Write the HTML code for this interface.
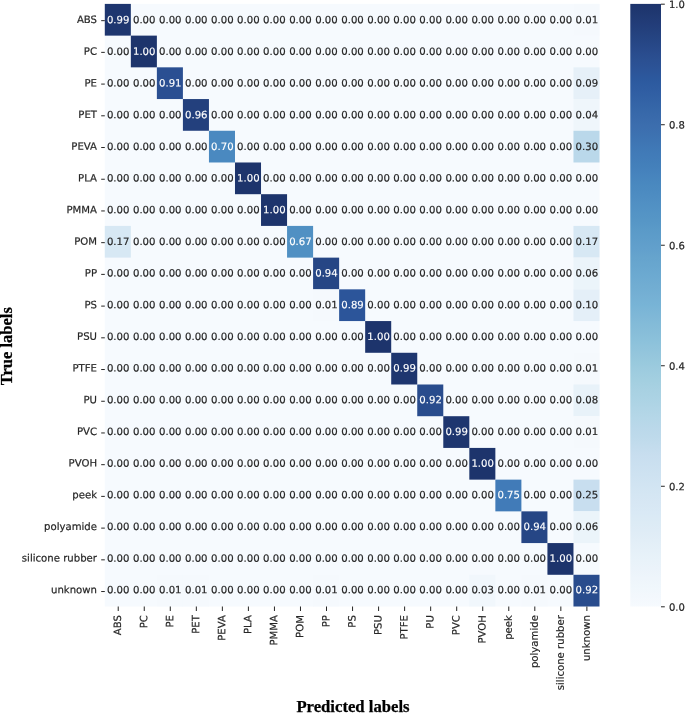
<!DOCTYPE html>
<html lang="en"><head><meta charset="utf-8"><title>Confusion matrix</title>
<style>html,body{margin:0;padding:0;background:#fff}svg{display:block}text{font-family:"DejaVu Sans","Liberation Sans",sans-serif;font-size:10.15px;fill:#262626;stroke:#262626;stroke-width:0.2px}.w{fill:#fff;stroke:#fff;stroke-width:0.14px}.ax{font-family:"Liberation Serif","Times New Roman",serif;font-weight:bold;font-size:16.5px;fill:#000;stroke:#000;stroke-width:0.25px}.t{stroke:#262626;stroke-width:1;fill:none}</style></head><body>
<svg width="685" height="713" viewBox="0 0 685 713">
<defs><linearGradient id="cb" x1="0" y1="1" x2="0" y2="0">
<stop offset="0.0000" stop-color="#f6fafe"/>
<stop offset="0.0156" stop-color="#f3f8fd"/>
<stop offset="0.0312" stop-color="#f0f7fc"/>
<stop offset="0.0469" stop-color="#eef5fb"/>
<stop offset="0.0625" stop-color="#ebf3fa"/>
<stop offset="0.0781" stop-color="#e8f2f9"/>
<stop offset="0.0938" stop-color="#e5f0f8"/>
<stop offset="0.1094" stop-color="#e2eef7"/>
<stop offset="0.1250" stop-color="#dfecf6"/>
<stop offset="0.1406" stop-color="#dcebf5"/>
<stop offset="0.1562" stop-color="#d9e9f5"/>
<stop offset="0.1719" stop-color="#d7e7f4"/>
<stop offset="0.1875" stop-color="#d4e6f3"/>
<stop offset="0.2031" stop-color="#d1e4f2"/>
<stop offset="0.2188" stop-color="#cee2f1"/>
<stop offset="0.2344" stop-color="#cbe0f0"/>
<stop offset="0.2500" stop-color="#c8deef"/>
<stop offset="0.2656" stop-color="#c3dced"/>
<stop offset="0.2812" stop-color="#bedaeb"/>
<stop offset="0.2969" stop-color="#bad8ea"/>
<stop offset="0.3125" stop-color="#b5d7e8"/>
<stop offset="0.3281" stop-color="#b1d5e6"/>
<stop offset="0.3438" stop-color="#acd3e4"/>
<stop offset="0.3594" stop-color="#a8d1e2"/>
<stop offset="0.3750" stop-color="#a3cfe0"/>
<stop offset="0.3906" stop-color="#9eccdf"/>
<stop offset="0.4062" stop-color="#98c9dd"/>
<stop offset="0.4219" stop-color="#93c5dc"/>
<stop offset="0.4375" stop-color="#8dc2db"/>
<stop offset="0.4531" stop-color="#88bed9"/>
<stop offset="0.4688" stop-color="#83bbd8"/>
<stop offset="0.4844" stop-color="#7eb7d7"/>
<stop offset="0.5000" stop-color="#78b4d6"/>
<stop offset="0.5156" stop-color="#75b0d4"/>
<stop offset="0.5312" stop-color="#71add2"/>
<stop offset="0.5469" stop-color="#6daad1"/>
<stop offset="0.5625" stop-color="#69a7cf"/>
<stop offset="0.5781" stop-color="#66a4cd"/>
<stop offset="0.5938" stop-color="#62a0cc"/>
<stop offset="0.6094" stop-color="#5e9dca"/>
<stop offset="0.6250" stop-color="#5a9ac8"/>
<stop offset="0.6406" stop-color="#5696c6"/>
<stop offset="0.6562" stop-color="#5393c5"/>
<stop offset="0.6719" stop-color="#508fc3"/>
<stop offset="0.6875" stop-color="#4c8bc1"/>
<stop offset="0.7031" stop-color="#4988bf"/>
<stop offset="0.7188" stop-color="#4683bd"/>
<stop offset="0.7344" stop-color="#437fba"/>
<stop offset="0.7500" stop-color="#417bb8"/>
<stop offset="0.7656" stop-color="#3f77b5"/>
<stop offset="0.7812" stop-color="#3d72b1"/>
<stop offset="0.7969" stop-color="#3c6eae"/>
<stop offset="0.8125" stop-color="#396aab"/>
<stop offset="0.8281" stop-color="#3566a8"/>
<stop offset="0.8438" stop-color="#3261a5"/>
<stop offset="0.8594" stop-color="#2f5da2"/>
<stop offset="0.8750" stop-color="#2c599e"/>
<stop offset="0.8906" stop-color="#2c5498"/>
<stop offset="0.9062" stop-color="#2b5092"/>
<stop offset="0.9219" stop-color="#294b8c"/>
<stop offset="0.9375" stop-color="#264685"/>
<stop offset="0.9531" stop-color="#24417e"/>
<stop offset="0.9688" stop-color="#223c78"/>
<stop offset="0.9844" stop-color="#1f3871"/>
<stop offset="1.0000" stop-color="#1d346c"/>
</linearGradient></defs>
<rect x="0" y="0" width="685" height="713" fill="#ffffff"/>
<rect x="104.80" y="3.90" width="494.70" height="602.60" fill="#f6fafe"/>
<rect x="104.80" y="3.90" width="26.04" height="31.72" fill="#1e366f"/>
<rect x="573.46" y="3.90" width="26.04" height="31.72" fill="#f5f9fd"/>
<rect x="130.84" y="35.62" width="26.04" height="31.72" fill="#1d346c"/>
<rect x="156.87" y="67.33" width="26.04" height="31.72" fill="#2a4f92"/>
<rect x="573.46" y="67.33" width="26.04" height="31.72" fill="#e6f0f8"/>
<rect x="182.91" y="99.05" width="26.04" height="31.72" fill="#23407d"/>
<rect x="573.46" y="99.05" width="26.04" height="31.72" fill="#eff6fb"/>
<rect x="208.95" y="130.76" width="26.04" height="31.72" fill="#4a89c0"/>
<rect x="573.46" y="130.76" width="26.04" height="31.72" fill="#bad8ea"/>
<rect x="234.98" y="162.48" width="26.04" height="31.72" fill="#1d346c"/>
<rect x="261.02" y="194.19" width="26.04" height="31.72" fill="#1d346c"/>
<rect x="104.80" y="225.91" width="26.04" height="31.72" fill="#d7e8f4"/>
<rect x="287.06" y="225.91" width="26.04" height="31.72" fill="#5090c3"/>
<rect x="573.46" y="225.91" width="26.04" height="31.72" fill="#d7e8f4"/>
<rect x="313.09" y="257.63" width="26.04" height="31.72" fill="#264685"/>
<rect x="573.46" y="257.63" width="26.04" height="31.72" fill="#ebf4fa"/>
<rect x="313.09" y="289.34" width="26.04" height="31.72" fill="#f5f9fd"/>
<rect x="339.13" y="289.34" width="26.04" height="31.72" fill="#2c559a"/>
<rect x="573.46" y="289.34" width="26.04" height="31.72" fill="#e4eff8"/>
<rect x="365.17" y="321.06" width="26.04" height="31.72" fill="#1d346c"/>
<rect x="391.21" y="352.77" width="26.04" height="31.72" fill="#1e366f"/>
<rect x="573.46" y="352.77" width="26.04" height="31.72" fill="#f5f9fd"/>
<rect x="417.24" y="384.49" width="26.04" height="31.72" fill="#294c8d"/>
<rect x="573.46" y="384.49" width="26.04" height="31.72" fill="#e8f2f9"/>
<rect x="443.28" y="416.21" width="26.04" height="31.72" fill="#1e366f"/>
<rect x="573.46" y="416.21" width="26.04" height="31.72" fill="#f5f9fd"/>
<rect x="469.32" y="447.92" width="26.04" height="31.72" fill="#1d346c"/>
<rect x="495.35" y="479.64" width="26.04" height="31.72" fill="#417bb8"/>
<rect x="573.46" y="479.64" width="26.04" height="31.72" fill="#c8deef"/>
<rect x="521.39" y="511.35" width="26.04" height="31.72" fill="#264685"/>
<rect x="573.46" y="511.35" width="26.04" height="31.72" fill="#ebf4fa"/>
<rect x="547.43" y="543.07" width="26.04" height="31.72" fill="#1d346c"/>
<rect x="156.87" y="574.78" width="26.04" height="31.72" fill="#f5f9fd"/>
<rect x="182.91" y="574.78" width="26.04" height="31.72" fill="#f5f9fd"/>
<rect x="313.09" y="574.78" width="26.04" height="31.72" fill="#f5f9fd"/>
<rect x="469.32" y="574.78" width="26.04" height="31.72" fill="#f1f7fc"/>
<rect x="521.39" y="574.78" width="26.04" height="31.72" fill="#f5f9fd"/>
<rect x="573.46" y="574.78" width="26.04" height="31.72" fill="#294c8d"/>
<g text-anchor="middle" style="font-size:10px;stroke:none;fill:#404040">
<text transform="translate(118.17 23.20) rotate(.03)" class="w">0.99</text>
<text transform="translate(144.21 23.20) rotate(.03)">0.00</text>
<text transform="translate(170.24 23.20) rotate(.03)">0.00</text>
<text transform="translate(196.28 23.20) rotate(.03)">0.00</text>
<text transform="translate(222.32 23.20) rotate(.03)">0.00</text>
<text transform="translate(248.35 23.20) rotate(.03)">0.00</text>
<text transform="translate(274.39 23.20) rotate(.03)">0.00</text>
<text transform="translate(300.43 23.20) rotate(.03)">0.00</text>
<text transform="translate(326.46 23.20) rotate(.03)">0.00</text>
<text transform="translate(352.50 23.20) rotate(.03)">0.00</text>
<text transform="translate(378.54 23.20) rotate(.03)">0.00</text>
<text transform="translate(404.57 23.20) rotate(.03)">0.00</text>
<text transform="translate(430.61 23.20) rotate(.03)">0.00</text>
<text transform="translate(456.65 23.20) rotate(.03)">0.00</text>
<text transform="translate(482.68 23.20) rotate(.03)">0.00</text>
<text transform="translate(508.72 23.20) rotate(.03)">0.00</text>
<text transform="translate(534.76 23.20) rotate(.03)">0.00</text>
<text transform="translate(560.79 23.20) rotate(.03)">0.00</text>
<text transform="translate(586.83 23.20) rotate(.03)">0.01</text>
<text transform="translate(118.17 54.88) rotate(.03)">0.00</text>
<text transform="translate(144.21 54.88) rotate(.03)" class="w">1.00</text>
<text transform="translate(170.24 54.88) rotate(.03)">0.00</text>
<text transform="translate(196.28 54.88) rotate(.03)">0.00</text>
<text transform="translate(222.32 54.88) rotate(.03)">0.00</text>
<text transform="translate(248.35 54.88) rotate(.03)">0.00</text>
<text transform="translate(274.39 54.88) rotate(.03)">0.00</text>
<text transform="translate(300.43 54.88) rotate(.03)">0.00</text>
<text transform="translate(326.46 54.88) rotate(.03)">0.00</text>
<text transform="translate(352.50 54.88) rotate(.03)">0.00</text>
<text transform="translate(378.54 54.88) rotate(.03)">0.00</text>
<text transform="translate(404.57 54.88) rotate(.03)">0.00</text>
<text transform="translate(430.61 54.88) rotate(.03)">0.00</text>
<text transform="translate(456.65 54.88) rotate(.03)">0.00</text>
<text transform="translate(482.68 54.88) rotate(.03)">0.00</text>
<text transform="translate(508.72 54.88) rotate(.03)">0.00</text>
<text transform="translate(534.76 54.88) rotate(.03)">0.00</text>
<text transform="translate(560.79 54.88) rotate(.03)">0.00</text>
<text transform="translate(586.83 54.88) rotate(.03)">0.00</text>
<text transform="translate(118.17 86.55) rotate(.03)">0.00</text>
<text transform="translate(144.21 86.55) rotate(.03)">0.00</text>
<text transform="translate(170.24 86.55) rotate(.03)" class="w">0.91</text>
<text transform="translate(196.28 86.55) rotate(.03)">0.00</text>
<text transform="translate(222.32 86.55) rotate(.03)">0.00</text>
<text transform="translate(248.35 86.55) rotate(.03)">0.00</text>
<text transform="translate(274.39 86.55) rotate(.03)">0.00</text>
<text transform="translate(300.43 86.55) rotate(.03)">0.00</text>
<text transform="translate(326.46 86.55) rotate(.03)">0.00</text>
<text transform="translate(352.50 86.55) rotate(.03)">0.00</text>
<text transform="translate(378.54 86.55) rotate(.03)">0.00</text>
<text transform="translate(404.57 86.55) rotate(.03)">0.00</text>
<text transform="translate(430.61 86.55) rotate(.03)">0.00</text>
<text transform="translate(456.65 86.55) rotate(.03)">0.00</text>
<text transform="translate(482.68 86.55) rotate(.03)">0.00</text>
<text transform="translate(508.72 86.55) rotate(.03)">0.00</text>
<text transform="translate(534.76 86.55) rotate(.03)">0.00</text>
<text transform="translate(560.79 86.55) rotate(.03)">0.00</text>
<text transform="translate(586.83 86.55) rotate(.03)">0.09</text>
<text transform="translate(118.17 118.23) rotate(.03)">0.00</text>
<text transform="translate(144.21 118.23) rotate(.03)">0.00</text>
<text transform="translate(170.24 118.23) rotate(.03)">0.00</text>
<text transform="translate(196.28 118.23) rotate(.03)" class="w">0.96</text>
<text transform="translate(222.32 118.23) rotate(.03)">0.00</text>
<text transform="translate(248.35 118.23) rotate(.03)">0.00</text>
<text transform="translate(274.39 118.23) rotate(.03)">0.00</text>
<text transform="translate(300.43 118.23) rotate(.03)">0.00</text>
<text transform="translate(326.46 118.23) rotate(.03)">0.00</text>
<text transform="translate(352.50 118.23) rotate(.03)">0.00</text>
<text transform="translate(378.54 118.23) rotate(.03)">0.00</text>
<text transform="translate(404.57 118.23) rotate(.03)">0.00</text>
<text transform="translate(430.61 118.23) rotate(.03)">0.00</text>
<text transform="translate(456.65 118.23) rotate(.03)">0.00</text>
<text transform="translate(482.68 118.23) rotate(.03)">0.00</text>
<text transform="translate(508.72 118.23) rotate(.03)">0.00</text>
<text transform="translate(534.76 118.23) rotate(.03)">0.00</text>
<text transform="translate(560.79 118.23) rotate(.03)">0.00</text>
<text transform="translate(586.83 118.23) rotate(.03)">0.04</text>
<text transform="translate(118.17 149.90) rotate(.03)">0.00</text>
<text transform="translate(144.21 149.90) rotate(.03)">0.00</text>
<text transform="translate(170.24 149.90) rotate(.03)">0.00</text>
<text transform="translate(196.28 149.90) rotate(.03)">0.00</text>
<text transform="translate(222.32 149.90) rotate(.03)" class="w">0.70</text>
<text transform="translate(248.35 149.90) rotate(.03)">0.00</text>
<text transform="translate(274.39 149.90) rotate(.03)">0.00</text>
<text transform="translate(300.43 149.90) rotate(.03)">0.00</text>
<text transform="translate(326.46 149.90) rotate(.03)">0.00</text>
<text transform="translate(352.50 149.90) rotate(.03)">0.00</text>
<text transform="translate(378.54 149.90) rotate(.03)">0.00</text>
<text transform="translate(404.57 149.90) rotate(.03)">0.00</text>
<text transform="translate(430.61 149.90) rotate(.03)">0.00</text>
<text transform="translate(456.65 149.90) rotate(.03)">0.00</text>
<text transform="translate(482.68 149.90) rotate(.03)">0.00</text>
<text transform="translate(508.72 149.90) rotate(.03)">0.00</text>
<text transform="translate(534.76 149.90) rotate(.03)">0.00</text>
<text transform="translate(560.79 149.90) rotate(.03)">0.00</text>
<text transform="translate(586.83 149.90) rotate(.03)">0.30</text>
<text transform="translate(118.17 181.57) rotate(.03)">0.00</text>
<text transform="translate(144.21 181.57) rotate(.03)">0.00</text>
<text transform="translate(170.24 181.57) rotate(.03)">0.00</text>
<text transform="translate(196.28 181.57) rotate(.03)">0.00</text>
<text transform="translate(222.32 181.57) rotate(.03)">0.00</text>
<text transform="translate(248.35 181.57) rotate(.03)" class="w">1.00</text>
<text transform="translate(274.39 181.57) rotate(.03)">0.00</text>
<text transform="translate(300.43 181.57) rotate(.03)">0.00</text>
<text transform="translate(326.46 181.57) rotate(.03)">0.00</text>
<text transform="translate(352.50 181.57) rotate(.03)">0.00</text>
<text transform="translate(378.54 181.57) rotate(.03)">0.00</text>
<text transform="translate(404.57 181.57) rotate(.03)">0.00</text>
<text transform="translate(430.61 181.57) rotate(.03)">0.00</text>
<text transform="translate(456.65 181.57) rotate(.03)">0.00</text>
<text transform="translate(482.68 181.57) rotate(.03)">0.00</text>
<text transform="translate(508.72 181.57) rotate(.03)">0.00</text>
<text transform="translate(534.76 181.57) rotate(.03)">0.00</text>
<text transform="translate(560.79 181.57) rotate(.03)">0.00</text>
<text transform="translate(586.83 181.57) rotate(.03)">0.00</text>
<text transform="translate(118.17 213.25) rotate(.03)">0.00</text>
<text transform="translate(144.21 213.25) rotate(.03)">0.00</text>
<text transform="translate(170.24 213.25) rotate(.03)">0.00</text>
<text transform="translate(196.28 213.25) rotate(.03)">0.00</text>
<text transform="translate(222.32 213.25) rotate(.03)">0.00</text>
<text transform="translate(248.35 213.25) rotate(.03)">0.00</text>
<text transform="translate(274.39 213.25) rotate(.03)" class="w">1.00</text>
<text transform="translate(300.43 213.25) rotate(.03)">0.00</text>
<text transform="translate(326.46 213.25) rotate(.03)">0.00</text>
<text transform="translate(352.50 213.25) rotate(.03)">0.00</text>
<text transform="translate(378.54 213.25) rotate(.03)">0.00</text>
<text transform="translate(404.57 213.25) rotate(.03)">0.00</text>
<text transform="translate(430.61 213.25) rotate(.03)">0.00</text>
<text transform="translate(456.65 213.25) rotate(.03)">0.00</text>
<text transform="translate(482.68 213.25) rotate(.03)">0.00</text>
<text transform="translate(508.72 213.25) rotate(.03)">0.00</text>
<text transform="translate(534.76 213.25) rotate(.03)">0.00</text>
<text transform="translate(560.79 213.25) rotate(.03)">0.00</text>
<text transform="translate(586.83 213.25) rotate(.03)">0.00</text>
<text transform="translate(118.17 244.92) rotate(.03)">0.17</text>
<text transform="translate(144.21 244.92) rotate(.03)">0.00</text>
<text transform="translate(170.24 244.92) rotate(.03)">0.00</text>
<text transform="translate(196.28 244.92) rotate(.03)">0.00</text>
<text transform="translate(222.32 244.92) rotate(.03)">0.00</text>
<text transform="translate(248.35 244.92) rotate(.03)">0.00</text>
<text transform="translate(274.39 244.92) rotate(.03)">0.00</text>
<text transform="translate(300.43 244.92) rotate(.03)" class="w">0.67</text>
<text transform="translate(326.46 244.92) rotate(.03)">0.00</text>
<text transform="translate(352.50 244.92) rotate(.03)">0.00</text>
<text transform="translate(378.54 244.92) rotate(.03)">0.00</text>
<text transform="translate(404.57 244.92) rotate(.03)">0.00</text>
<text transform="translate(430.61 244.92) rotate(.03)">0.00</text>
<text transform="translate(456.65 244.92) rotate(.03)">0.00</text>
<text transform="translate(482.68 244.92) rotate(.03)">0.00</text>
<text transform="translate(508.72 244.92) rotate(.03)">0.00</text>
<text transform="translate(534.76 244.92) rotate(.03)">0.00</text>
<text transform="translate(560.79 244.92) rotate(.03)">0.00</text>
<text transform="translate(586.83 244.92) rotate(.03)">0.17</text>
<text transform="translate(118.17 276.60) rotate(.03)">0.00</text>
<text transform="translate(144.21 276.60) rotate(.03)">0.00</text>
<text transform="translate(170.24 276.60) rotate(.03)">0.00</text>
<text transform="translate(196.28 276.60) rotate(.03)">0.00</text>
<text transform="translate(222.32 276.60) rotate(.03)">0.00</text>
<text transform="translate(248.35 276.60) rotate(.03)">0.00</text>
<text transform="translate(274.39 276.60) rotate(.03)">0.00</text>
<text transform="translate(300.43 276.60) rotate(.03)">0.00</text>
<text transform="translate(326.46 276.60) rotate(.03)" class="w">0.94</text>
<text transform="translate(352.50 276.60) rotate(.03)">0.00</text>
<text transform="translate(378.54 276.60) rotate(.03)">0.00</text>
<text transform="translate(404.57 276.60) rotate(.03)">0.00</text>
<text transform="translate(430.61 276.60) rotate(.03)">0.00</text>
<text transform="translate(456.65 276.60) rotate(.03)">0.00</text>
<text transform="translate(482.68 276.60) rotate(.03)">0.00</text>
<text transform="translate(508.72 276.60) rotate(.03)">0.00</text>
<text transform="translate(534.76 276.60) rotate(.03)">0.00</text>
<text transform="translate(560.79 276.60) rotate(.03)">0.00</text>
<text transform="translate(586.83 276.60) rotate(.03)">0.06</text>
<text transform="translate(118.17 308.27) rotate(.03)">0.00</text>
<text transform="translate(144.21 308.27) rotate(.03)">0.00</text>
<text transform="translate(170.24 308.27) rotate(.03)">0.00</text>
<text transform="translate(196.28 308.27) rotate(.03)">0.00</text>
<text transform="translate(222.32 308.27) rotate(.03)">0.00</text>
<text transform="translate(248.35 308.27) rotate(.03)">0.00</text>
<text transform="translate(274.39 308.27) rotate(.03)">0.00</text>
<text transform="translate(300.43 308.27) rotate(.03)">0.00</text>
<text transform="translate(326.46 308.27) rotate(.03)">0.01</text>
<text transform="translate(352.50 308.27) rotate(.03)" class="w">0.89</text>
<text transform="translate(378.54 308.27) rotate(.03)">0.00</text>
<text transform="translate(404.57 308.27) rotate(.03)">0.00</text>
<text transform="translate(430.61 308.27) rotate(.03)">0.00</text>
<text transform="translate(456.65 308.27) rotate(.03)">0.00</text>
<text transform="translate(482.68 308.27) rotate(.03)">0.00</text>
<text transform="translate(508.72 308.27) rotate(.03)">0.00</text>
<text transform="translate(534.76 308.27) rotate(.03)">0.00</text>
<text transform="translate(560.79 308.27) rotate(.03)">0.00</text>
<text transform="translate(586.83 308.27) rotate(.03)">0.10</text>
<text transform="translate(118.17 339.95) rotate(.03)">0.00</text>
<text transform="translate(144.21 339.95) rotate(.03)">0.00</text>
<text transform="translate(170.24 339.95) rotate(.03)">0.00</text>
<text transform="translate(196.28 339.95) rotate(.03)">0.00</text>
<text transform="translate(222.32 339.95) rotate(.03)">0.00</text>
<text transform="translate(248.35 339.95) rotate(.03)">0.00</text>
<text transform="translate(274.39 339.95) rotate(.03)">0.00</text>
<text transform="translate(300.43 339.95) rotate(.03)">0.00</text>
<text transform="translate(326.46 339.95) rotate(.03)">0.00</text>
<text transform="translate(352.50 339.95) rotate(.03)">0.00</text>
<text transform="translate(378.54 339.95) rotate(.03)" class="w">1.00</text>
<text transform="translate(404.57 339.95) rotate(.03)">0.00</text>
<text transform="translate(430.61 339.95) rotate(.03)">0.00</text>
<text transform="translate(456.65 339.95) rotate(.03)">0.00</text>
<text transform="translate(482.68 339.95) rotate(.03)">0.00</text>
<text transform="translate(508.72 339.95) rotate(.03)">0.00</text>
<text transform="translate(534.76 339.95) rotate(.03)">0.00</text>
<text transform="translate(560.79 339.95) rotate(.03)">0.00</text>
<text transform="translate(586.83 339.95) rotate(.03)">0.00</text>
<text transform="translate(118.17 371.62) rotate(.03)">0.00</text>
<text transform="translate(144.21 371.62) rotate(.03)">0.00</text>
<text transform="translate(170.24 371.62) rotate(.03)">0.00</text>
<text transform="translate(196.28 371.62) rotate(.03)">0.00</text>
<text transform="translate(222.32 371.62) rotate(.03)">0.00</text>
<text transform="translate(248.35 371.62) rotate(.03)">0.00</text>
<text transform="translate(274.39 371.62) rotate(.03)">0.00</text>
<text transform="translate(300.43 371.62) rotate(.03)">0.00</text>
<text transform="translate(326.46 371.62) rotate(.03)">0.00</text>
<text transform="translate(352.50 371.62) rotate(.03)">0.00</text>
<text transform="translate(378.54 371.62) rotate(.03)">0.00</text>
<text transform="translate(404.57 371.62) rotate(.03)" class="w">0.99</text>
<text transform="translate(430.61 371.62) rotate(.03)">0.00</text>
<text transform="translate(456.65 371.62) rotate(.03)">0.00</text>
<text transform="translate(482.68 371.62) rotate(.03)">0.00</text>
<text transform="translate(508.72 371.62) rotate(.03)">0.00</text>
<text transform="translate(534.76 371.62) rotate(.03)">0.00</text>
<text transform="translate(560.79 371.62) rotate(.03)">0.00</text>
<text transform="translate(586.83 371.62) rotate(.03)">0.01</text>
<text transform="translate(118.17 403.30) rotate(.03)">0.00</text>
<text transform="translate(144.21 403.30) rotate(.03)">0.00</text>
<text transform="translate(170.24 403.30) rotate(.03)">0.00</text>
<text transform="translate(196.28 403.30) rotate(.03)">0.00</text>
<text transform="translate(222.32 403.30) rotate(.03)">0.00</text>
<text transform="translate(248.35 403.30) rotate(.03)">0.00</text>
<text transform="translate(274.39 403.30) rotate(.03)">0.00</text>
<text transform="translate(300.43 403.30) rotate(.03)">0.00</text>
<text transform="translate(326.46 403.30) rotate(.03)">0.00</text>
<text transform="translate(352.50 403.30) rotate(.03)">0.00</text>
<text transform="translate(378.54 403.30) rotate(.03)">0.00</text>
<text transform="translate(404.57 403.30) rotate(.03)">0.00</text>
<text transform="translate(430.61 403.30) rotate(.03)" class="w">0.92</text>
<text transform="translate(456.65 403.30) rotate(.03)">0.00</text>
<text transform="translate(482.68 403.30) rotate(.03)">0.00</text>
<text transform="translate(508.72 403.30) rotate(.03)">0.00</text>
<text transform="translate(534.76 403.30) rotate(.03)">0.00</text>
<text transform="translate(560.79 403.30) rotate(.03)">0.00</text>
<text transform="translate(586.83 403.30) rotate(.03)">0.08</text>
<text transform="translate(118.17 434.98) rotate(.03)">0.00</text>
<text transform="translate(144.21 434.98) rotate(.03)">0.00</text>
<text transform="translate(170.24 434.98) rotate(.03)">0.00</text>
<text transform="translate(196.28 434.98) rotate(.03)">0.00</text>
<text transform="translate(222.32 434.98) rotate(.03)">0.00</text>
<text transform="translate(248.35 434.98) rotate(.03)">0.00</text>
<text transform="translate(274.39 434.98) rotate(.03)">0.00</text>
<text transform="translate(300.43 434.98) rotate(.03)">0.00</text>
<text transform="translate(326.46 434.98) rotate(.03)">0.00</text>
<text transform="translate(352.50 434.98) rotate(.03)">0.00</text>
<text transform="translate(378.54 434.98) rotate(.03)">0.00</text>
<text transform="translate(404.57 434.98) rotate(.03)">0.00</text>
<text transform="translate(430.61 434.98) rotate(.03)">0.00</text>
<text transform="translate(456.65 434.98) rotate(.03)" class="w">0.99</text>
<text transform="translate(482.68 434.98) rotate(.03)">0.00</text>
<text transform="translate(508.72 434.98) rotate(.03)">0.00</text>
<text transform="translate(534.76 434.98) rotate(.03)">0.00</text>
<text transform="translate(560.79 434.98) rotate(.03)">0.00</text>
<text transform="translate(586.83 434.98) rotate(.03)">0.01</text>
<text transform="translate(118.17 466.65) rotate(.03)">0.00</text>
<text transform="translate(144.21 466.65) rotate(.03)">0.00</text>
<text transform="translate(170.24 466.65) rotate(.03)">0.00</text>
<text transform="translate(196.28 466.65) rotate(.03)">0.00</text>
<text transform="translate(222.32 466.65) rotate(.03)">0.00</text>
<text transform="translate(248.35 466.65) rotate(.03)">0.00</text>
<text transform="translate(274.39 466.65) rotate(.03)">0.00</text>
<text transform="translate(300.43 466.65) rotate(.03)">0.00</text>
<text transform="translate(326.46 466.65) rotate(.03)">0.00</text>
<text transform="translate(352.50 466.65) rotate(.03)">0.00</text>
<text transform="translate(378.54 466.65) rotate(.03)">0.00</text>
<text transform="translate(404.57 466.65) rotate(.03)">0.00</text>
<text transform="translate(430.61 466.65) rotate(.03)">0.00</text>
<text transform="translate(456.65 466.65) rotate(.03)">0.00</text>
<text transform="translate(482.68 466.65) rotate(.03)" class="w">1.00</text>
<text transform="translate(508.72 466.65) rotate(.03)">0.00</text>
<text transform="translate(534.76 466.65) rotate(.03)">0.00</text>
<text transform="translate(560.79 466.65) rotate(.03)">0.00</text>
<text transform="translate(586.83 466.65) rotate(.03)">0.00</text>
<text transform="translate(118.17 498.32) rotate(.03)">0.00</text>
<text transform="translate(144.21 498.32) rotate(.03)">0.00</text>
<text transform="translate(170.24 498.32) rotate(.03)">0.00</text>
<text transform="translate(196.28 498.32) rotate(.03)">0.00</text>
<text transform="translate(222.32 498.32) rotate(.03)">0.00</text>
<text transform="translate(248.35 498.32) rotate(.03)">0.00</text>
<text transform="translate(274.39 498.32) rotate(.03)">0.00</text>
<text transform="translate(300.43 498.32) rotate(.03)">0.00</text>
<text transform="translate(326.46 498.32) rotate(.03)">0.00</text>
<text transform="translate(352.50 498.32) rotate(.03)">0.00</text>
<text transform="translate(378.54 498.32) rotate(.03)">0.00</text>
<text transform="translate(404.57 498.32) rotate(.03)">0.00</text>
<text transform="translate(430.61 498.32) rotate(.03)">0.00</text>
<text transform="translate(456.65 498.32) rotate(.03)">0.00</text>
<text transform="translate(482.68 498.32) rotate(.03)">0.00</text>
<text transform="translate(508.72 498.32) rotate(.03)" class="w">0.75</text>
<text transform="translate(534.76 498.32) rotate(.03)">0.00</text>
<text transform="translate(560.79 498.32) rotate(.03)">0.00</text>
<text transform="translate(586.83 498.32) rotate(.03)">0.25</text>
<text transform="translate(118.17 530.00) rotate(.03)">0.00</text>
<text transform="translate(144.21 530.00) rotate(.03)">0.00</text>
<text transform="translate(170.24 530.00) rotate(.03)">0.00</text>
<text transform="translate(196.28 530.00) rotate(.03)">0.00</text>
<text transform="translate(222.32 530.00) rotate(.03)">0.00</text>
<text transform="translate(248.35 530.00) rotate(.03)">0.00</text>
<text transform="translate(274.39 530.00) rotate(.03)">0.00</text>
<text transform="translate(300.43 530.00) rotate(.03)">0.00</text>
<text transform="translate(326.46 530.00) rotate(.03)">0.00</text>
<text transform="translate(352.50 530.00) rotate(.03)">0.00</text>
<text transform="translate(378.54 530.00) rotate(.03)">0.00</text>
<text transform="translate(404.57 530.00) rotate(.03)">0.00</text>
<text transform="translate(430.61 530.00) rotate(.03)">0.00</text>
<text transform="translate(456.65 530.00) rotate(.03)">0.00</text>
<text transform="translate(482.68 530.00) rotate(.03)">0.00</text>
<text transform="translate(508.72 530.00) rotate(.03)">0.00</text>
<text transform="translate(534.76 530.00) rotate(.03)" class="w">0.94</text>
<text transform="translate(560.79 530.00) rotate(.03)">0.00</text>
<text transform="translate(586.83 530.00) rotate(.03)">0.06</text>
<text transform="translate(118.17 561.68) rotate(.03)">0.00</text>
<text transform="translate(144.21 561.68) rotate(.03)">0.00</text>
<text transform="translate(170.24 561.68) rotate(.03)">0.00</text>
<text transform="translate(196.28 561.68) rotate(.03)">0.00</text>
<text transform="translate(222.32 561.68) rotate(.03)">0.00</text>
<text transform="translate(248.35 561.68) rotate(.03)">0.00</text>
<text transform="translate(274.39 561.68) rotate(.03)">0.00</text>
<text transform="translate(300.43 561.68) rotate(.03)">0.00</text>
<text transform="translate(326.46 561.68) rotate(.03)">0.00</text>
<text transform="translate(352.50 561.68) rotate(.03)">0.00</text>
<text transform="translate(378.54 561.68) rotate(.03)">0.00</text>
<text transform="translate(404.57 561.68) rotate(.03)">0.00</text>
<text transform="translate(430.61 561.68) rotate(.03)">0.00</text>
<text transform="translate(456.65 561.68) rotate(.03)">0.00</text>
<text transform="translate(482.68 561.68) rotate(.03)">0.00</text>
<text transform="translate(508.72 561.68) rotate(.03)">0.00</text>
<text transform="translate(534.76 561.68) rotate(.03)">0.00</text>
<text transform="translate(560.79 561.68) rotate(.03)" class="w">1.00</text>
<text transform="translate(586.83 561.68) rotate(.03)">0.00</text>
<text transform="translate(118.17 593.35) rotate(.03)">0.00</text>
<text transform="translate(144.21 593.35) rotate(.03)">0.00</text>
<text transform="translate(170.24 593.35) rotate(.03)">0.01</text>
<text transform="translate(196.28 593.35) rotate(.03)">0.01</text>
<text transform="translate(222.32 593.35) rotate(.03)">0.00</text>
<text transform="translate(248.35 593.35) rotate(.03)">0.00</text>
<text transform="translate(274.39 593.35) rotate(.03)">0.00</text>
<text transform="translate(300.43 593.35) rotate(.03)">0.00</text>
<text transform="translate(326.46 593.35) rotate(.03)">0.01</text>
<text transform="translate(352.50 593.35) rotate(.03)">0.00</text>
<text transform="translate(378.54 593.35) rotate(.03)">0.00</text>
<text transform="translate(404.57 593.35) rotate(.03)">0.00</text>
<text transform="translate(430.61 593.35) rotate(.03)">0.00</text>
<text transform="translate(456.65 593.35) rotate(.03)">0.00</text>
<text transform="translate(482.68 593.35) rotate(.03)">0.03</text>
<text transform="translate(508.72 593.35) rotate(.03)">0.00</text>
<text transform="translate(534.76 593.35) rotate(.03)">0.01</text>
<text transform="translate(560.79 593.35) rotate(.03)">0.00</text>
<text transform="translate(586.83 593.35) rotate(.03)" class="w">0.92</text>
</g>
<g text-anchor="end">
<path class="t" d="M101.20 20.66H104.80"/>
<text transform="translate(97.00 23.10) rotate(.03)">ABS</text>
<path class="t" d="M101.20 52.37H104.80"/>
<text transform="translate(97.00 54.78) rotate(.03)">PC</text>
<path class="t" d="M101.20 84.09H104.80"/>
<text transform="translate(97.00 86.45) rotate(.03)">PE</text>
<path class="t" d="M101.20 115.81H104.80"/>
<text transform="translate(97.00 118.12) rotate(.03)">PET</text>
<path class="t" d="M101.20 147.52H104.80"/>
<text transform="translate(97.00 149.80) rotate(.03)">PEVA</text>
<path class="t" d="M101.20 179.24H104.80"/>
<text transform="translate(97.00 181.47) rotate(.03)">PLA</text>
<path class="t" d="M101.20 210.95H104.80"/>
<text transform="translate(97.00 213.15) rotate(.03)">PMMA</text>
<path class="t" d="M101.20 242.67H104.80"/>
<text transform="translate(97.00 244.82) rotate(.03)">POM</text>
<path class="t" d="M101.20 274.38H104.80"/>
<text transform="translate(97.00 276.50) rotate(.03)">PP</text>
<path class="t" d="M101.20 306.10H104.80"/>
<text transform="translate(97.00 308.18) rotate(.03)">PS</text>
<path class="t" d="M101.20 337.82H104.80"/>
<text transform="translate(97.00 339.85) rotate(.03)">PSU</text>
<path class="t" d="M101.20 369.53H104.80"/>
<text transform="translate(97.00 371.53) rotate(.03)">PTFE</text>
<path class="t" d="M101.20 401.25H104.80"/>
<text transform="translate(97.00 403.20) rotate(.03)">PU</text>
<path class="t" d="M101.20 432.96H104.80"/>
<text transform="translate(97.00 434.88) rotate(.03)">PVC</text>
<path class="t" d="M101.20 464.68H104.80"/>
<text transform="translate(97.00 466.55) rotate(.03)">PVOH</text>
<path class="t" d="M101.20 496.39H104.80"/>
<text transform="translate(97.00 498.23) rotate(.03)">peek</text>
<path class="t" d="M101.20 528.11H104.80"/>
<text transform="translate(97.00 529.90) rotate(.03)">polyamide</text>
<path class="t" d="M101.20 559.83H104.80"/>
<text transform="translate(97.00 561.58) rotate(.03)">silicone rubber</text>
<path class="t" d="M101.20 591.54H104.80"/>
<text transform="translate(97.00 593.25) rotate(.03)">unknown</text>
</g>
<g text-anchor="end">
<path class="t" d="M118.22 606.50V611.00"/>
<text transform="translate(121.12 615.10) rotate(-89.97)">ABS</text>
<path class="t" d="M144.26 606.50V611.00"/>
<text transform="translate(147.16 615.10) rotate(-89.97)">PC</text>
<path class="t" d="M170.29 606.50V611.00"/>
<text transform="translate(173.19 615.10) rotate(-89.97)">PE</text>
<path class="t" d="M196.33 606.50V611.00"/>
<text transform="translate(199.23 615.10) rotate(-89.97)">PET</text>
<path class="t" d="M222.37 606.50V611.00"/>
<text transform="translate(225.27 615.10) rotate(-89.97)">PEVA</text>
<path class="t" d="M248.40 606.50V611.00"/>
<text transform="translate(251.30 615.10) rotate(-89.97)">PLA</text>
<path class="t" d="M274.44 606.50V611.00"/>
<text transform="translate(277.34 615.10) rotate(-89.97)">PMMA</text>
<path class="t" d="M300.48 606.50V611.00"/>
<text transform="translate(303.38 615.10) rotate(-89.97)">POM</text>
<path class="t" d="M326.51 606.50V611.00"/>
<text transform="translate(329.41 615.10) rotate(-89.97)">PP</text>
<path class="t" d="M352.55 606.50V611.00"/>
<text transform="translate(355.45 615.10) rotate(-89.97)">PS</text>
<path class="t" d="M378.59 606.50V611.00"/>
<text transform="translate(381.49 615.10) rotate(-89.97)">PSU</text>
<path class="t" d="M404.62 606.50V611.00"/>
<text transform="translate(407.52 615.10) rotate(-89.97)">PTFE</text>
<path class="t" d="M430.66 606.50V611.00"/>
<text transform="translate(433.56 615.10) rotate(-89.97)">PU</text>
<path class="t" d="M456.70 606.50V611.00"/>
<text transform="translate(459.60 615.10) rotate(-89.97)">PVC</text>
<path class="t" d="M482.73 606.50V611.00"/>
<text transform="translate(485.63 615.10) rotate(-89.97)">PVOH</text>
<path class="t" d="M508.77 606.50V611.00"/>
<text transform="translate(511.67 615.10) rotate(-89.97)">peek</text>
<path class="t" d="M534.81 606.50V611.00"/>
<text transform="translate(537.71 615.10) rotate(-89.97)">polyamide</text>
<path class="t" d="M560.84 606.50V611.00"/>
<text transform="translate(563.74 615.10) rotate(-89.97)">silicone rubber</text>
<path class="t" d="M586.88 606.50V611.00"/>
<text transform="translate(589.78 615.10) rotate(-89.97)">unknown</text>
</g>
<rect x="630.30" y="3.90" width="30.70" height="602.60" fill="url(#cb)"/>
<path class="t" d="M661.00 606.80H664.80"/>
<text style="font-size:10px" transform="translate(668.90 610.70) rotate(.03)">0.0</text>
<path class="t" d="M661.00 486.28H664.80"/>
<text style="font-size:10px" transform="translate(668.90 490.18) rotate(.03)">0.2</text>
<path class="t" d="M661.00 365.76H664.80"/>
<text style="font-size:10px" transform="translate(668.90 369.66) rotate(.03)">0.4</text>
<path class="t" d="M661.00 245.24H664.80"/>
<text style="font-size:10px" transform="translate(668.90 249.14) rotate(.03)">0.6</text>
<path class="t" d="M661.00 124.72H664.80"/>
<text style="font-size:10px" transform="translate(668.90 128.62) rotate(.03)">0.8</text>
<path class="t" d="M661.00 4.20H664.80"/>
<text style="font-size:10px" transform="translate(668.90 8.10) rotate(.03)">1.0</text>
<text class="ax" text-anchor="middle" transform="translate(12.2 346.2) rotate(-90)">True labels</text>
<text class="ax" style="font-size:16.7px" text-anchor="middle" x="353" y="711.6">Predicted labels</text>
</svg></body></html>
